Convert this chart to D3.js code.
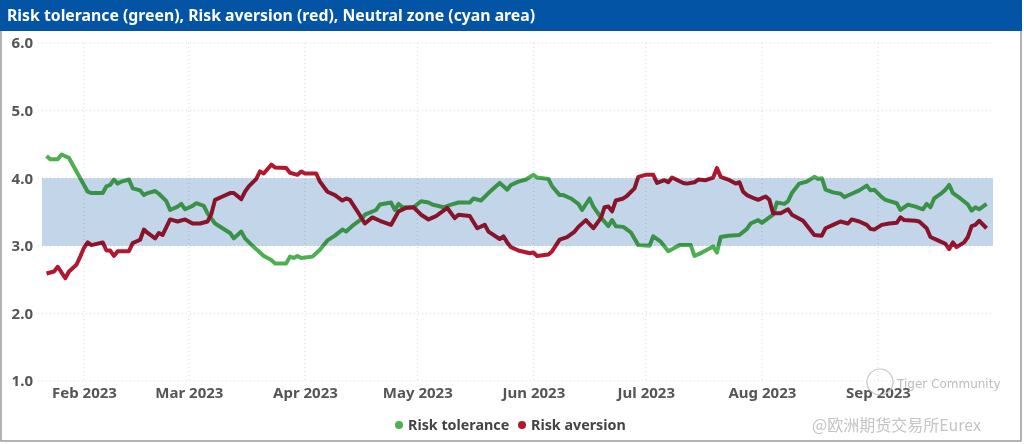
<!DOCTYPE html>
<html>
<head>
<meta charset="utf-8">
<script src="https://cdn.jsdelivr.net/npm/d3@7"></script>
<style>
  body { margin: 0; background: #fff; }
  svg { display: block; font-family: "Noto Sans", "Open Sans", sans-serif; }
</style>
</head>
<body>
<div id="chart"></div>
<script>
const titleText = "Risk tolerance (green), Risk aversion (red), Neutral zone (cyan area)"
const yTicks = [1, 2, 3, 4, 5, 6]
const monthTicks = ["2023-02-01", "2023-03-01", "2023-04-01", "2023-05-01", "2023-06-01", "2023-07-01", "2023-08-01", "2023-09-01"]
const neutralZone = [3, 4]
const seriesNames = ["Risk tolerance", "Risk aversion"]

const riskTolerance = [
  ["01-22",4.33],["01-23",4.28],["01-25",4.28],["01-26",4.35],["01-28",4.30],["01-29",4.20],["01-31",4.00],
  ["02-02",3.80],["02-03",3.78],["02-06",3.78],["02-07",3.88],["02-08",3.90],["02-09",3.98],["02-10",3.92],
  ["02-11",3.95],["02-13",3.98],["02-14",3.85],["02-16",3.82],["02-17",3.75],["02-18",3.78],["02-20",3.81],
  ["02-21",3.77],["02-23",3.66],["02-24",3.53],["02-26",3.58],["02-27",3.62],["02-28",3.54],
  ["03-02",3.59],["03-03",3.63],["03-05",3.59],["03-06",3.48],["03-08",3.33],["03-10",3.26],["03-12",3.19],
  ["03-13",3.11],["03-15",3.21],["03-16",3.11],["03-18",3.00],["03-20",2.90],["03-21",2.85],["03-23",2.79],
  ["03-24",2.74],["03-27",2.74],["03-28",2.84],["03-29",2.82],["03-30",2.85],["03-31",2.82],
  ["04-03",2.84],["04-05",2.94],["04-07",3.08],["04-09",3.15],["04-11",3.24],["04-12",3.21],["04-14",3.31],
  ["04-16",3.39],["04-17",3.46],["04-20",3.53],["04-21",3.61],["04-24",3.64],["04-25",3.53],["04-26",3.62],
  ["04-27",3.57],["04-30",3.57],
  ["05-02",3.66],["05-04",3.64],["05-05",3.61],["05-08",3.57],["05-10",3.61],["05-12",3.64],["05-15",3.64],
  ["05-16",3.70],["05-18",3.67],["05-20",3.78],["05-23",3.93],["05-24",3.88],["05-25",3.83],["05-26",3.90],
  ["05-28",3.95],["05-30",3.98],
  ["06-01",4.05],["06-02",4.01],["06-05",3.99],["06-06",3.88],["06-08",3.75],["06-09",3.75],["06-11",3.70],
  ["06-13",3.62],["06-14",3.53],["06-16",3.70],["06-17",3.58],["06-19",3.42],["06-21",3.29],["06-22",3.38],
  ["06-23",3.29],["06-25",3.28],["06-27",3.20],["06-29",3.01],
  ["07-02",3.00],["07-03",3.14],["07-05",3.06],["07-07",2.92],["07-08",2.95],["07-10",3.01],["07-13",3.01],
  ["07-14",2.85],["07-16",2.90],["07-19",2.99],["07-20",2.90],["07-21",3.13],["07-23",3.15],["07-26",3.16],
  ["07-28",3.25],["07-29",3.33],["07-31",3.38],
  ["08-01",3.34],["08-03",3.42],["08-04",3.46],["08-05",3.64],["08-07",3.62],["08-08",3.66],["08-09",3.78],
  ["08-11",3.92],["08-13",3.95],["08-15",4.02],["08-16",3.99],["08-17",4.00],["08-18",3.83],["08-20",3.79],
  ["08-22",3.77],["08-23",3.72],["08-25",3.77],["08-27",3.82],["08-29",3.89],["08-30",3.82],["08-31",3.83],
  ["09-02",3.72],["09-03",3.68],["09-06",3.63],["09-07",3.53],["09-09",3.61],["09-11",3.58],["09-13",3.54],
  ["09-14",3.62],["09-15",3.57],["09-16",3.70],["09-18",3.78],["09-19",3.83],["09-20",3.90],["09-21",3.78],
  ["09-23",3.70],["09-25",3.61],["09-26",3.52],["09-27",3.57],["09-28",3.54],["09-30",3.62]
]

const riskAversion = [
  ["01-22",2.59],["01-24",2.62],["01-25",2.69],["01-27",2.52],["01-28",2.62],["01-30",2.72],["01-31",2.84],
  ["02-01",2.97],["02-02",3.05],["02-03",3.01],["02-06",3.05],["02-07",2.93],["02-08",2.93],["02-09",2.85],
  ["02-10",2.92],["02-13",2.92],["02-14",3.04],["02-16",3.09],["02-17",3.24],["02-18",3.19],["02-20",3.11],
  ["02-21",3.19],["02-22",3.16],["02-24",3.39],["02-26",3.36],["02-28",3.39],
  ["03-02",3.33],["03-04",3.33],["03-06",3.36],["03-07",3.47],["03-08",3.68],["03-10",3.73],["03-12",3.78],
  ["03-13",3.78],["03-15",3.69],["03-16",3.80],["03-17",3.88],["03-19",3.99],["03-20",4.10],["03-21",4.07],
  ["03-23",4.20],["03-24",4.16],["03-27",4.15],["03-28",4.08],["03-30",4.05],["03-31",4.10],
  ["04-01",4.07],["04-04",4.07],["04-05",3.95],["04-07",3.80],["04-09",3.75],["04-11",3.67],["04-12",3.70],
  ["04-13",3.68],["04-15",3.51],["04-17",3.33],["04-19",3.42],["04-21",3.37],["04-24",3.31],["04-25",3.41],
  ["04-26",3.51],["04-28",3.56],["04-30",3.57],
  ["05-02",3.46],["05-04",3.39],["05-06",3.44],["05-09",3.56],["05-11",3.41],["05-12",3.46],["05-15",3.44],
  ["05-17",3.26],["05-19",3.31],["05-20",3.21],["05-23",3.10],["05-24",3.14],["05-25",3.05],["05-26",2.98],
  ["05-28",2.93],["05-31",2.89],
  ["06-01",2.90],["06-02",2.85],["06-05",2.87],["06-06",2.92],["06-08",3.09],["06-10",3.13],["06-12",3.21],
  ["06-13",3.28],["06-15",3.38],["06-17",3.26],["06-19",3.41],["06-20",3.57],["06-21",3.58],["06-22",3.51],
  ["06-23",3.67],["06-25",3.70],["06-26",3.74],["06-28",3.85],["06-29",4.02],
  ["07-01",4.05],["07-03",4.05],["07-04",3.93],["07-06",3.97],["07-07",3.94],["07-08",4.01],["07-11",3.93],
  ["07-12",3.92],["07-14",3.94],["07-15",3.98],["07-17",3.97],["07-19",4.01],["07-20",4.15],["07-21",4.02],
  ["07-23",3.98],["07-25",3.92],["07-26",3.94],["07-27",3.80],["07-28",3.75],["07-30",3.70],["07-31",3.68],
  ["08-02",3.73],["08-03",3.68],["08-04",3.48],["08-06",3.48],["08-07",3.51],["08-08",3.54],["08-09",3.46],
  ["08-12",3.37],["08-13",3.30],["08-15",3.16],["08-17",3.15],["08-18",3.26],["08-20",3.31],["08-22",3.36],
  ["08-24",3.33],["08-25",3.39],["08-27",3.36],["08-29",3.31],["08-30",3.25],["08-31",3.24],
  ["09-02",3.31],["09-04",3.33],["09-06",3.34],["09-07",3.42],["09-08",3.38],["09-11",3.37],["09-12",3.36],
  ["09-14",3.26],["09-15",3.13],["09-17",3.08],["09-19",3.03],["09-20",2.95],["09-21",3.05],["09-22",2.98],
  ["09-24",3.05],["09-25",3.13],["09-26",3.29],["09-27",3.31],["09-28",3.37],["09-30",3.26]
]

const width = 1024
const height = 444
const plot = { left: 42, right: 993, top: 43, bottom: 381 }
const colors = { tolerance: "#4caf50", aversion: "#b2172f", band: "#c3d5e8", title: "#0354a5", text: "#555" }

const parseDay = d3.timeParse("%Y-%m-%d")
const toPoint = d => ({ date: parseDay("2023-" + d[0]), value: d[1] })
const tolData = riskTolerance.map(toPoint)
const avData = riskAversion.map(toPoint)

const svg = d3.select("#chart").append("svg")
    .attr("width", width)
    .attr("height", height)

const xScale = d3.scaleTime()
    .domain([new Date(2023, 0, 20, 19), new Date(2023, 9, 1, 17)])
    .range([plot.left, plot.right])

const yScale = d3.scaleLinear()
    .domain([1, 6])
    .range([plot.bottom, plot.top])

// frame + title bar
svg.append("rect")
    .attr("x", 1).attr("y", 1)
    .attr("width", 1020).attr("height", 440)
    .attr("fill", "none")
    .attr("stroke", "#9a9a9a")
    .attr("stroke-width", 1.5)

svg.append("rect")
    .attr("x", 0).attr("y", 0)
    .attr("width", 1022).attr("height", 31)
    .attr("fill", colors.title)

svg.append("text")
    .attr("x", 7).attr("y", 21)
    .attr("fill", "#fff")
    .attr("font-size", "15.8px")
    .attr("font-weight", "bold")
    .text(titleText)

// grid
const grid = svg.append("g").attr("class", "grid")
grid.selectAll(".hgrid")
    .data(yTicks)
    .join("line")
    .attr("x1", 38).attr("x2", plot.right)
    .attr("y1", d => yScale(d)).attr("y2", d => yScale(d))
    .attr("stroke", "#d8d8d8")
    .attr("stroke-dasharray", "1,3")

grid.selectAll(".vgrid")
    .data(monthTicks.map(parseDay))
    .join("line")
    .attr("x1", d => xScale(d)).attr("x2", d => xScale(d))
    .attr("y1", plot.top).attr("y2", plot.bottom)
    .attr("stroke", "#d8d8d8")
    .attr("stroke-dasharray", "1,3")

// axes (labels only)
const yAxis = d3.axisLeft(yScale)
    .tickValues(yTicks)
    .tickFormat(d3.format(".1f"))
    .tickSize(0)
    .tickPadding(0)

svg.append("g")
    .attr("class", "y-axis")
    .attr("transform", "translate(33,0)")
    .call(yAxis)
    .call(g => g.select(".domain").remove())
    .call(g => g.selectAll("text")
        .attr("font-family", "Noto Sans, sans-serif")
        .attr("font-size", "15px")
        .attr("font-weight", "bold")
        .attr("fill", colors.text))

const xAxis = d3.axisBottom(xScale)
    .tickValues(monthTicks.map(parseDay))
    .tickFormat(d3.timeFormat("%b %Y"))
    .tickSize(0)
    .tickPadding(0)

svg.append("g")
    .attr("class", "x-axis")
    .attr("transform", "translate(0,387)")
    .call(xAxis)
    .call(g => g.select(".domain").remove())
    .call(g => g.selectAll("text")
        .attr("font-family", "Noto Sans, sans-serif")
        .attr("font-size", "15px")
        .attr("font-weight", "bold")
        .attr("fill", colors.text))

// lines
const line = d3.line()
    .x(d => xScale(d.date))
    .y(d => yScale(d.value))

svg.append("path")
    .datum(tolData)
    .attr("fill", "none")
    .attr("stroke", colors.tolerance)
    .attr("stroke-width", 4)
    .attr("stroke-linejoin", "round")
    .attr("d", line)

svg.append("path")
    .datum(avData)
    .attr("fill", "none")
    .attr("stroke", colors.aversion)
    .attr("stroke-width", 4)
    .attr("stroke-linejoin", "round")
    .attr("d", line)

// neutral zone, multiplied over the lines
svg.append("rect")
    .attr("x", plot.left)
    .attr("y", yScale(neutralZone[1]))
    .attr("width", plot.right - plot.left)
    .attr("height", yScale(neutralZone[0]) - yScale(neutralZone[1]))
    .attr("fill", colors.band)
    .style("mix-blend-mode", "multiply")

// legend
const legend = svg.append("g")
    .attr("transform", "translate(399,425)")
    .attr("font-size", "14.3px")
    .attr("font-weight", "bold")
    .attr("fill", "#444")

const legItems = [
    { name: seriesNames[0], color: colors.tolerance, x: 0 },
    { name: seriesNames[1], color: colors.aversion, x: 123 }
]
legend.selectAll("circle")
    .data(legItems)
    .join("circle")
    .attr("cx", d => d.x).attr("cy", 0)
    .attr("r", 4)
    .attr("fill", d => d.color)

legend.selectAll("text")
    .data(legItems)
    .join("text")
    .attr("x", d => d.x + 9)
    .attr("y", 5.3)
    .text(d => d.name)

// watermark
const wm = svg.append("g").attr("fill", "#bdbdbd").attr("font-family", "DejaVu Sans, sans-serif")
wm.append("circle")
    .attr("cx", 880).attr("cy", 382).attr("r", 13)
    .attr("fill", "none").attr("stroke", "#c8c8c8").attr("stroke-width", 1.2)
wm.append("text")
    .attr("x", 897).attr("y", 388)
    .attr("font-size", "12px")
    .text("Tiger Community")
wm.append("text")
    .attr("x", 812).attr("y", 431)
    .attr("font-family", "Noto Sans CJK SC, sans-serif")
    .attr("font-size", "16px")
    .attr("fill", "#c4c4c4")
    .text("@欧洲期货交易所Eurex")
</script>
</body>
</html>
